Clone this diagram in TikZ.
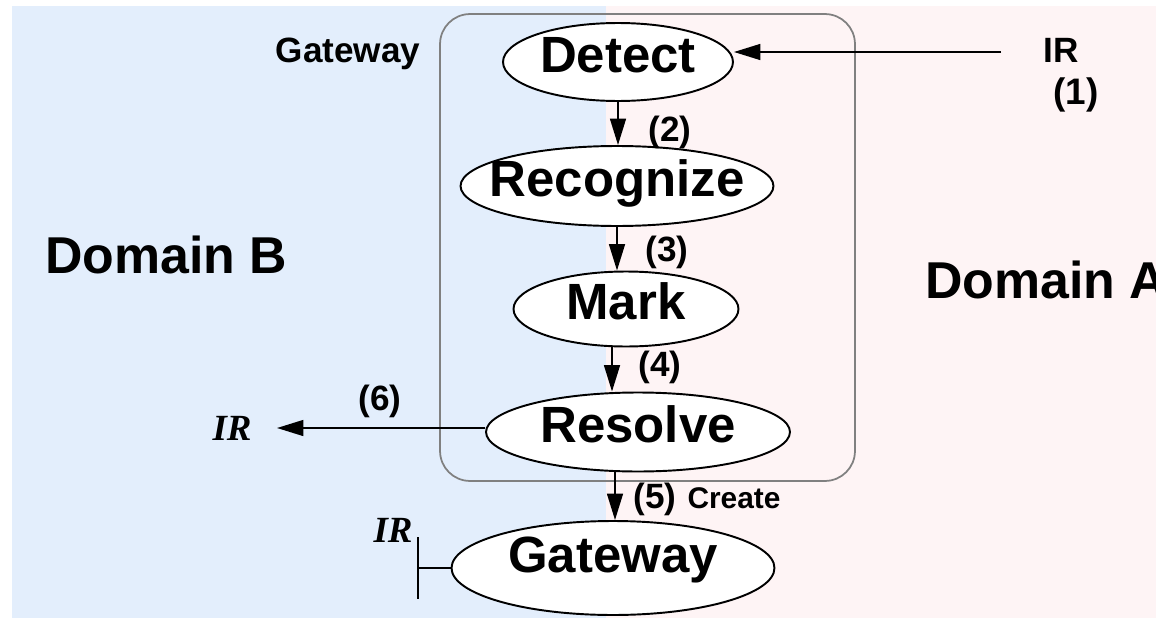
\documentclass[tikz,border=0pt]{standalone}
\usepackage{fontspec}
\setmainfont{Liberation Sans}
\newfontfamily\irfont{Liberation Serif}
\usetikzlibrary{shapes.geometric,arrows.meta}
\definecolor{domainb}{RGB}{227,238,252}
\definecolor{domaina}{RGB}{254,244,245}

\begin{document}
\begin{tikzpicture}[x=0.02cm, y=-0.02cm,
    stage/.style={ellipse, draw, line width=1.1pt, fill=white, inner xsep=-20pt, inner ysep=0pt, text height=21pt, text depth=9pt, font=\fontsize{29}{32}\selectfont\bfseries},
    gwbox/.style={rectangle, draw=gray, line width=1pt, rounded corners=0.6cm, minimum width=8.3cm, minimum height=9.34cm},
    flow/.style={-{Triangle[length=15pt,width=9pt]}, line width=1.1pt},
    num/.style={inner sep=0pt, font=\fontsize{20}{22}\selectfont\bfseries},
    tag/.style={inner sep=0pt, font=\fontsize{20}{22}\selectfont\bfseries},
    ir/.style={inner sep=0pt, font=\irfont\fontsize{21}{23}\selectfont\bfseries\itshape},
    areaname/.style={inner sep=0pt, font=\fontsize{29.5}{32}\selectfont\bfseries}
]
\useasboundingbox (0,0) rectangle (1156,622);

% Domains
\fill[domainb] (12,6) rectangle (606,618);
\fill[domaina] (606,6) rectangle (1156,618);
\node[areaname, anchor=base] (domb) at (166,273) {Domain B};
\node[areaname, anchor=base west] (doma) at (925,298) {Domain A};

% Gateway box
\node[gwbox] (gw) at (647.5,247.5) {};
\node[tag, anchor=base] (gwname) at (348,62) {Gateway};

% Stages
\node[stage, minimum width=4.6cm, minimum height=1.56cm] (detect) at (618,62) {Detect};
\node[stage, minimum width=6.26cm, minimum height=1.6cm] (recognize) at (617,186) {Recognize};
\node[stage, minimum width=4.5cm, minimum height=1.5cm] (mark) at (626,309) {Mark};
\node[stage, minimum width=6.08cm, minimum height=1.58cm] (resolve) at (638,432) {Resolve};
\node[stage, minimum width=6.46cm, minimum height=1.88cm, text depth=16pt, inner ysep=-2pt] (gateway) at (613,568) {Gateway};

% Incoming IR
\coordinate (irin) at (1001,52);
\node[tag, anchor=base] (irtop) at (1061,62) {IR};
\node[num, font=\fontsize{21}{23}\selectfont\bfseries] (n1) at (1076,95) {(1)};
\draw[flow] (irin) -- (irin -| detect.east);

% Steps
\draw[flow] (detect.south) -- (detect.south |- recognize.north);
\node[num] (n2) at (670,132) {(2)};
\draw[flow] (recognize.south) -- (recognize.south |- mark.north);
\node[num] (n3) at (667,252) {(3)};
\draw[flow] ([xshift=-0.28cm]mark.south) -- ([xshift=-0.28cm]mark.south |- resolve.north);
\node[num] (n4) at (660,367) {(4)};
\draw[flow] ([xshift=-0.46cm]resolve.south) -- ([xshift=-0.46cm]resolve.south |- gateway.north);
\node[num] (n5) at (655,499) {(5)};
\node[tag, anchor=base, font=\fontsize{17}{19}\selectfont\bfseries] (create) at (734,508) {Create};

% Outgoing IR
\coordinate (irout) at (277,428);
\draw[flow] (resolve.west |- irout) -- (irout);
\node[num] (n6) at (380,401) {(6)};
\node[ir, anchor=base] (irleft) at (232,440) {IR};

% IR blocked at new gateway
\coordinate (bar) at (417,568);
\draw[-{Bar[width=35pt]}, line width=1.1pt] (gateway.west) -- (bar);
\node[ir, anchor=base] (irbottom) at (393,542) {IR};
\end{tikzpicture}
\end{document}
